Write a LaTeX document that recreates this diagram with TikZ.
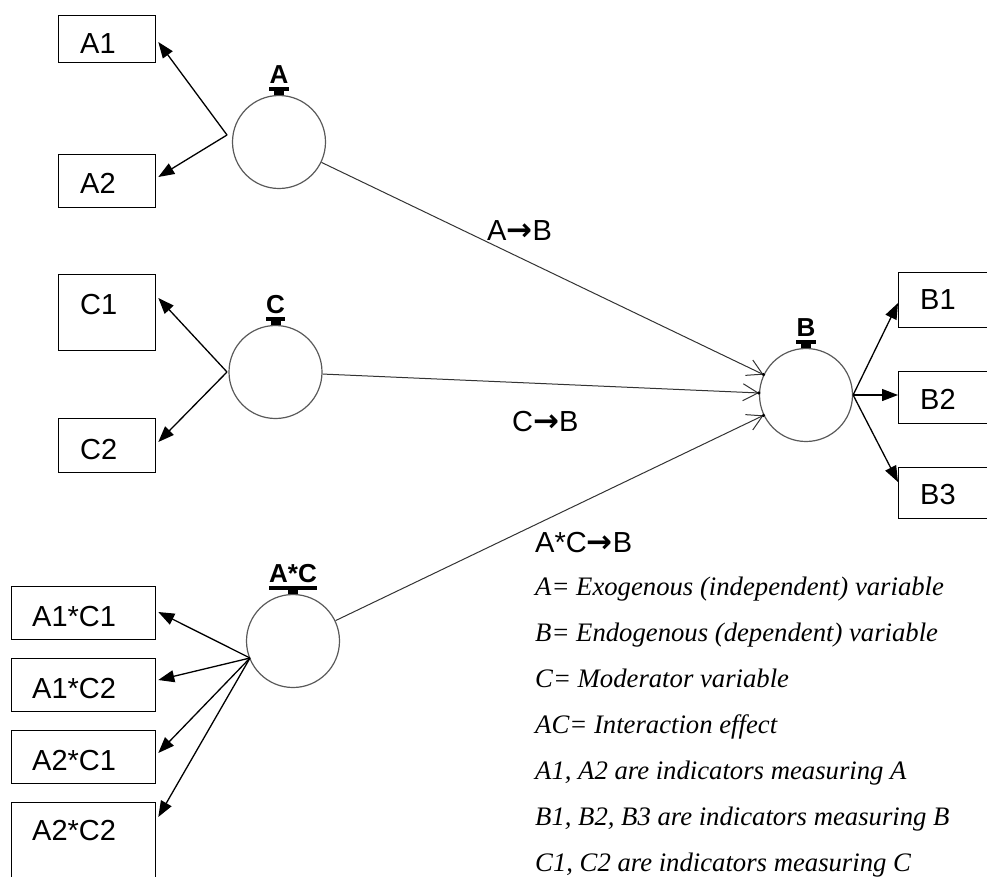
\documentclass[tikz,border=0pt]{standalone}
\usepackage{fontspec}
\setmainfont{Liberation Sans}
\newfontfamily\legendfont{Liberation Serif}
\newfontfamily\arrowfont{DejaVu Sans}
\newcommand\effarrow{{\arrowfont\bfseries\fontsize{31}{34}\selectfont →}}
\usetikzlibrary{arrows.meta,calc}

\begin{document}
\begin{tikzpicture}[x=1pt,y=-1pt,
  box/.style={draw, line width=1.3pt, rectangle, inner sep=0pt, anchor=north west},
  lbl/.style={inner sep=0pt, anchor=west, font=\fontsize{29}{34}\selectfont},
  latent/.style={draw=black!65, line width=1.2pt, circle, minimum size=93pt, inner sep=0pt},
  captext/.style={inner sep=0pt, anchor=south, font=\bfseries\fontsize{26}{30}\selectfont},
  load/.style={line width=1.3pt, -{Triangle[length=16pt,width=12pt]}},
  effect/.style={line width=1pt, draw=black!80, -{Straight Barb[length=15pt,width=17pt,line width=1pt]}},
  tipdot/.style={circle, fill=black, inner sep=0pt, minimum size=3.5pt},
  efflbl/.style={inner sep=0pt, anchor=west, font=\fontsize{29}{34}\selectfont},
  leg/.style={inner sep=0pt, anchor=base west, font=\legendfont\itshape\fontsize{26.7}{30}\selectfont}
]
\useasboundingbox (0,0) rectangle (987,876);
\clip (0,0) rectangle (987,876);

% latent variables
\node[latent] (ca)  at (279,142) {};
\node[latent] (cc)  at (275.5,372) {};
\node[latent] (cb)  at (806,395) {};
\node[latent] (cac) at (293,641) {};

% underlined captions above the circles
\foreach \c/\t in {ca/A, cc/C, cb/B, cac/A*C} {
  \node[captext] (\c lab) at ([yshift=11pt]\c.north) {\t};
  \fill ([yshift=-3pt]\c lab.south west) rectangle ([yshift=-7pt]\c lab.south east);
  \fill ([xshift=-5pt,yshift=4pt]\c.north) rectangle ([xshift=5pt]\c.north);
}

% indicator boxes
\node[box, minimum width=97pt, minimum height=47pt] (a1) at (58,15) {};
\node[box, minimum width=97pt, minimum height=53pt] (a2) at (58,154) {};
\node[box, minimum width=97pt, minimum height=76pt] (c1) at (58,274) {};
\node[box, minimum width=97pt, minimum height=54pt] (c2) at (58,418) {};
\node[box, minimum width=100pt, minimum height=55pt] (b1) at (898,272) {};
\node[box, minimum width=100pt, minimum height=52pt] (b2) at (898,371) {};
\node[box, minimum width=100pt, minimum height=51pt] (b3) at (898,467) {};
\node[box, minimum width=144pt, minimum height=53pt] (x11) at (11,586) {};
\node[box, minimum width=144pt, minimum height=53pt] (x12) at (11,658) {};
\node[box, minimum width=144pt, minimum height=53pt] (x21) at (11,730) {};
\node[box, minimum width=144pt, minimum height=100pt] (x22) at (11,802) {};

\node[lbl] (a1t) at ($(a1.north west)+(22,29)$) {A1};
\node[lbl] (a2t) at ($(a2.north west)+(22,29)$) {A2};
\node[lbl] (c1t) at ($(c1.north west)+(22,31)$) {C1};
\node[lbl] (c2t) at ($(c2.north west)+(22,32)$) {C2};
\node[lbl] (b1t) at ($(b1.north west)+(22,28)$) {B1};
\node[lbl] (b2t) at ($(b2.north west)+(22,28)$) {B2};
\node[lbl] (b3t) at ($(b3.north west)+(22,28)$) {B3};
\node[lbl] (x11t) at ($(x11.north west)+(21,31)$) {A1*C1};
\node[lbl] (x12t) at ($(x12.north west)+(21,31)$) {A1*C2};
\node[lbl] (x21t) at ($(x21.north west)+(21,31)$) {A2*C1};
\node[lbl] (x22t) at ($(x22.north west)+(21,29)$) {A2*C2};

% hubs from which the loadings leave
\coordinate (ha)  at (227,135);
\coordinate (hc)  at (227,372);
\coordinate (hac) at (250,658);

% loadings
\draw[load] (ha) -- ($(a1.north east)+(2,27)$);
\draw[load] (ha) -- ($(a2.north east)+(2,23)$);
\draw[load] (hc) -- ($(c1.north east)+(2,24)$);
\draw[load] (hc) -- ($(c2.north east)+(2,24)$);
\draw[load] (hac) -- ($(x11.north east)+(2,26)$);
\draw[load] (hac) -- ($(x12.north east)+(2,22)$);
\draw[load] (hac) -- ($(x21.north east)+(2,23)$);
\draw[load] (hac) -- ($(x22.north east)+(2,15)$);
\draw[load] (cb.east) -- ($(b1.north west)+(0,31)$);
\draw[load] (cb.east) -- ($(b2.north west)+(0,24)$);
\draw[load] (cb.east) -- ($(b3.north west)+(0,15)$);

% structural paths into B
\draw[effect] (ca) -- (cb) node[tipdot, pos=1] (abtip) {};
\draw[effect] (cc) -- (cb) node[tipdot, pos=1] (cbtip) {};
\draw[effect] (cac) -- (cb) node[tipdot, pos=1] (acbtip) {};

% path labels
\node[efflbl] (ab)  at (487,231) {A\effarrow B};
\node[efflbl] (cbl) at (512,422) {C\effarrow B};
\node[efflbl] (acb) at (535,543) {A*C\effarrow B};

% legend
\node[leg] (l1) at (535,595) {A= Exogenous (independent) variable};
\node[leg] (l2) at (535,641) {B= Endogenous (dependent) variable};
\node[leg] (l3) at (535,687) {C= Moderator variable};
\node[leg] (l4) at (535,733) {AC= Interaction effect};
\node[leg] (l5) at (535,779) {A1, A2 are indicators measuring A};
\node[leg] (l6) at (535,825) {B1, B2, B3 are indicators measuring B};
\node[leg] (l7) at (535,871) {C1, C2 are indicators measuring C};
\end{tikzpicture}
\end{document}
